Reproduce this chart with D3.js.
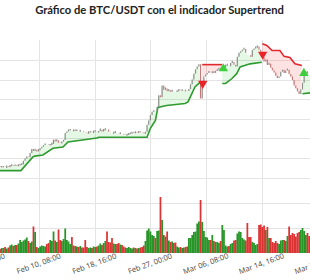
<!DOCTYPE html>
<html>
<head>
<meta charset="utf-8">
<script src="https://cdn.jsdelivr.net/npm/d3@7"></script>
<style>
  body { margin: 0; background: #fff; }
  svg { display: block; }
</style>
</head>
<body>
<script>
// 6h candles from this time on
const start = "2024-02-04T00:00";

// close price of each 6h candle (one line per day: 00, 06, 12, 18h)
const closes = [
  42900, 42750, 42600, 42650,
  42700, 42500, 42800, 42650,
  42900, 43100, 42950, 43050,
  42900, 43100, 43250, 43400,
  44300, 44900, 45400, 45200,
  46300, 47300, 46800, 47100,
  46700, 47000, 47500, 47900,
  48300, 48700, 48400, 48200,
  48300, 48600, 49700, 49200,
  49500, 48900, 48700, 49200,
  49600, 51400, 51800, 52000,
  52100, 51800, 52300, 51900,
  52000, 51700, 51900, 51600,
  51500, 51300, 51200, 51500,
  51600, 51400, 51700, 51800,
  51500, 51900, 52200, 51800,
  52100, 52600, 52300, 51800,
  51500, 51200, 51400, 51600,
  51300, 51100, 51300, 51000,
  50900, 50700, 50900, 51100,
  51200, 51400, 51300, 51500,
  51400, 51600, 51500, 51300,
  51200, 51700, 53500, 54600,
  56000, 56800, 57200, 56900,
  58000, 61000, 60500, 63500,
  62400, 62700, 62000, 62300,
  61900, 62400, 62100, 61800,
  62000, 62300, 62100, 62200,
  62000, 62400, 62100, 62600,
  63800, 65000, 66500, 67600,
  68300, 68900, 60200, 63800,
  65800, 66300, 66700, 66900,
  66600, 67100, 66700, 67200,
  67300, 68000, 67500, 67900,
  68200, 68500, 68700, 68400,
  69200, 69500, 68800, 68300,
  70800, 71800, 72200, 72600,
  72800, 71800, 71500, 71200,
  70800, 72500, 72900, 73100,
  73400, 72600, 72100, 70700,
  69600, 70100, 68700, 69000,
  68000, 67400, 66800, 66000,
  65400, 65800, 67000, 67500,
  66700, 67300, 67500, 66400,
  65800, 64900, 63500, 62800,
  62000, 61300, 62500, 64200,
  66600, 67100, 66500, 66200,
  65900, 65400, 64800, 64200
];

const volumes = [
  900, 1100, 800, 1000,
  1000, 1200, 900, 1100,
  1500, 1700, 1400, 1600,
  1600, 1900, 2600, 2200,
  2500, 2700, 3100, 2400,
  2000, 2300, 5300, 4200,
  1200, 1000, 1300, 1500,
  1400, 1300, 1800, 2000,
  2600, 2400, 4300, 2500,
  2200, 4700, 2600, 2400,
  2800, 4900, 2600, 2300,
  1800, 3200, 1500, 1400,
  1300, 1200, 1400, 1100,
  1100, 2600, 1200, 1000,
  1100, 1000, 1300, 1200,
  1300, 1500, 1900, 1600,
  2000, 2400, 4300, 2200,
  2100, 3000, 1900, 1800,
  1800, 2000, 1700, 1600,
  1300, 1100, 1000, 1200,
  1000, 900, 1100, 1000,
  900, 1000, 1100, 1200,
  1500, 2400, 4500, 4900,
  4300, 3600, 3400, 3000,
  4400, 4500, 11200, 6600,
  3600, 3300, 4300, 2500,
  2200, 2300, 2000, 2100,
  1300, 1100, 1200, 1000,
  1100, 1200, 1300, 3000,
  3000, 3600, 4200, 4300,
  5900, 6300, 10600, 6200,
  4400, 3200, 3100, 2600,
  2600, 3600, 2400, 2200,
  2200, 2000, 2400, 5600,
  4600, 1500, 1300, 1400,
  1800, 2000, 2500, 2600,
  3900, 4300, 4200, 3000,
  2700, 2500, 6000, 3200,
  3200, 2200, 2000, 1600,
  1800, 5600, 5700, 5200,
  5500, 4600, 5200, 3000,
  3000, 2200, 2000, 2400,
  2000, 1800, 2500, 2600,
  2600, 2400, 3400, 5300,
  3600, 4000, 3800, 3300,
  4000, 4200, 4600, 5000,
  4400, 3600, 4000, 3400,
  3000, 2800, 2600, 2900
];

// supertrend pieces, [time, level]
const upTrend1 = [
  ["2024-02-04T00:00", 41800], ["2024-02-07T15:00", 41800], ["2024-02-09T10:00", 45300],
  ["2024-02-09T17:00", 45500], ["2024-02-10T22:00", 45800], ["2024-02-12T10:00", 47500],
  ["2024-02-13T22:00", 47800], ["2024-02-14T16:00", 49100], ["2024-02-19T00:00", 50100],
  ["2024-02-19T06:00", 50300], ["2024-02-26T12:00", 50300], ["2024-02-27T00:00", 52600],
  ["2024-02-27T18:00", 54600], ["2024-02-28T03:00", 57900], ["2024-02-29T10:00", 58400],
  ["2024-03-03T04:00", 58900], ["2024-03-03T15:00", 59300], ["2024-03-04T16:00", 63100],
  ["2024-03-05T12:00", 64400]
];
const downTrend1 = [["2024-03-05T18:00", 68800], ["2024-03-08T18:00", 68800]];
const upTrend2 = [
  ["2024-03-08T18:00", 64000], ["2024-03-09T06:00", 64000], ["2024-03-10T04:00", 65200],
  ["2024-03-10T22:00", 66500], ["2024-03-11T10:00", 68200], ["2024-03-12T22:00", 69000],
  ["2024-03-14T16:00", 69400]
];
const downTrend2 = [
  ["2024-03-14T18:00", 74100], ["2024-03-15T10:00", 73700], ["2024-03-16T05:00", 72400],
  ["2024-03-17T09:00", 72400], ["2024-03-18T00:00", 70900], ["2024-03-18T21:00", 70600],
  ["2024-03-19T15:00", 69000], ["2024-03-20T16:00", 68600]
];
const upTrend3 = [["2024-03-20T18:00", 61400], ["2024-03-22T21:00", 61800], ["2024-03-23T00:00", 61800]];

// buy / sell arrows
const signals = [
  ["2024-03-05T20:00", 64000, "sell"],
  ["2024-03-08T22:00", 67800, "buy"],
  ["2024-03-14T19:00", 71400, "sell"],
  ["2024-03-20T23:00", 66600, "buy"]
];

const xTicks = ["2024-02-02T00:00", "2024-02-10T08:00", "2024-02-18T16:00", "2024-02-27T00:00",
                "2024-03-06T08:00", "2024-03-14T16:00", "2024-03-23T00:00"];
const priceTicks = [45000, 50000, 55000, 60000, 65000, 70000];
const volumeTicks = [5000, 10000, 15000];


const width = 310, height = 280;
const parse = d3.utcParse("%Y-%m-%dT%H:%M");
const step = 6 * 3600e3;
const t0 = parse(start);
const candles = closes.map((c, i) => ({
  date: new Date(+t0 + i * step),
  open: i ? closes[i - 1] : c,
  close: c,
  volume: volumes[i]
}));

const x = d3.scaleUtc()
  .domain([parse(xTicks[0]), parse(xTicks[xTicks.length - 1])])
  .range([-16.7, 317.5]);
const y = d3.scaleLinear().domain([40000, 75000]).range([177.7, 40.3]);
const yv = d3.scaleLinear().domain([0, 15000]).range([253, 178]);

const svg = d3.select("body").append("svg")
  .attr("width", width)
  .attr("height", height);

svg.append("text")
  .text("Gráfico de BTC/USDT con el indicador Supertrend")
  .attr("x", 159.5)
  .attr("y", 14)
  .attr("text-anchor", "middle")
  .style("font-family", "Lato, 'Open Sans', sans-serif")
  .style("font-weight", "bold")
  .style("font-size", "11.2px")
  .attr("fill", "#222");

// grid
const grid = svg.append("g").attr("stroke", "#e4e4e4").attr("stroke-width", 1);
grid.selectAll(".vx").data(xTicks).enter().append("line")
  .attr("x1", d => Math.round(x(parse(d))) + 0.5)
  .attr("x2", d => Math.round(x(parse(d))) + 0.5)
  .attr("y1", 40).attr("y2", 253);
grid.selectAll(".hp").data(priceTicks).enter().append("line")
  .attr("x1", 0).attr("x2", width)
  .attr("y1", d => Math.round(y(d)) + 0.5)
  .attr("y2", d => Math.round(y(d)) + 0.5);
grid.selectAll(".hv").data(volumeTicks).enter().append("line")
  .attr("x1", 0).attr("x2", width)
  .attr("y1", d => Math.round(yv(d)) + 0.5)
  .attr("y2", d => Math.round(yv(d)) + 0.5);

// supertrend fills and lines
const line = d3.line().x(d => x(d[0])).y(d => y(d[1]));
const pieces = [
  [upTrend1, "up"], [downTrend1, "down"], [upTrend2, "up"], [downTrend2, "down"], [upTrend3, "up"]
];
pieces.forEach(([pts, dir]) => {
  const st = pts.map(d => [parse(d[0]), d[1]]);
  const a = st[0][0], b = st[st.length - 1][0];
  const inside = candles.filter(c => c.date >= a && c.date <= b).map(c => [c.date, c.close]);
  const poly = inside.concat(st.slice().reverse());
  svg.append("path")
    .attr("d", line(poly) + "Z")
    .attr("fill", dir == "up" ? "rgba(0,190,0,0.10)" : "rgba(255,0,0,0.11)");
  svg.append("path")
    .attr("d", line(st))
    .attr("fill", "none")
    .attr("stroke", dir == "up" ? "#2f9a2f" : "#e0282e")
    .attr("stroke-width", 1.6);
});

// candles
svg.append("g").selectAll("line").data(candles).enter().append("line")
  .attr("x1", d => x(d.date)).attr("x2", d => x(d.date))
  .attr("y1", d => y(d.open))
  .attr("y2", d => Math.abs(y(d.open) - y(d.close)) < 1.2 ? y(d.close) - 1.2 : y(d.close))
  .attr("stroke", d => d.close >= d.open ? "#8a8f8a" : "#c47a7a")
  .attr("stroke-width", 1.2);

// signals
const tri = d3.symbol().type(d3.symbolTriangle).size(38);
svg.append("g").selectAll("path").data(signals).enter().append("path")
  .attr("d", tri)
  .attr("transform", d => "translate(" + x(parse(d[0])) + "," + y(d[1]) + ")" + (d[2] == "sell" ? " rotate(180)" : ""))
  .attr("fill", d => d[2] == "sell" ? "#e8242a" : "#3ccf3c");

// volume
const bw = x(new Date(+t0 + step)) - x(t0);
svg.append("g").selectAll("rect").data(candles).enter().append("rect")
  .attr("x", d => x(d.date) - bw / 2)
  .attr("width", bw * 1.05)
  .attr("y", d => yv(d.volume))
  .attr("height", d => yv(0) - yv(d.volume))
  .attr("fill", d => d.close >= d.open ? "#108a10" : "#d81e1e")
  .attr("opacity", 0.9);

// x axis labels
const xAxis = d3.axisBottom(x)
  .tickValues(xTicks.map(parse))
  .tickFormat(d3.utcFormat("%b %d, %H:%M"))
  .tickSize(0);
const gx = svg.append("g").attr("transform", "translate(0,253)").call(xAxis);
gx.select(".domain").remove();
gx.selectAll("text")
  .attr("y", 0).attr("dy", 0)
  .attr("text-anchor", "middle")
  .attr("transform", "translate(0,13) rotate(-20)")
  .style("font-family", "'Open Sans', sans-serif")
  .style("font-size", "7.5px")
  .attr("fill", "#444");
</script>
</body>
</html>
